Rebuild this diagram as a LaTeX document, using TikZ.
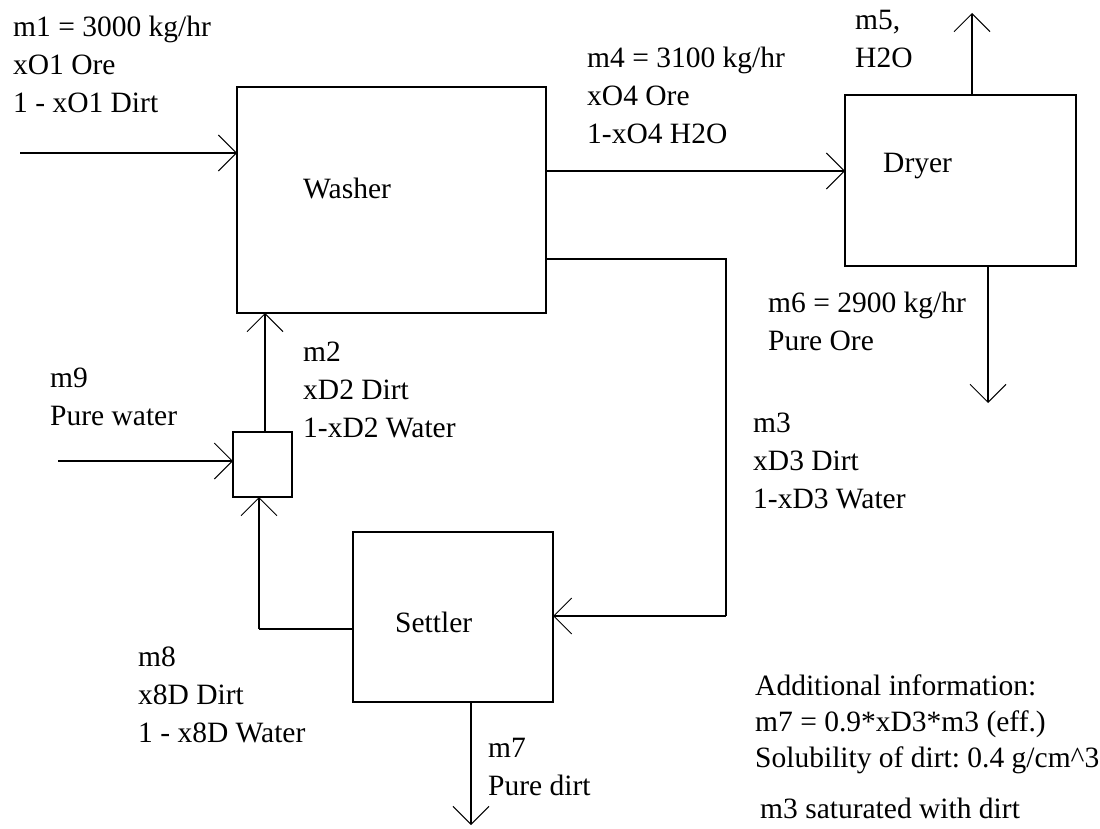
\documentclass[tikz,border=0pt]{standalone}
\usepackage{fontspec}
\setmainfont{Liberation Serif}
\usetikzlibrary{arrows.meta}
\frenchspacing
\begin{document}
\begin{tikzpicture}[x=1pt,y=-1pt,
  unitbox/.style={draw, line width=1.6pt, inner sep=0pt, outer sep=0pt},
  pipe/.style={line width=1.6pt},
  flow/.style={line width=1.6pt, -{Straight Barb[length=18pt,width=36pt,line width=1pt]}},
  lbl/.style={anchor=north west, align=left, inner sep=0pt,
    font=\fontsize{29.5}{38}\selectfont}]
\useasboundingbox[fill=white] (0,0) rectangle (1100,829);

% units
\node[unitbox, minimum width=309pt, minimum height=226pt] (washer) at (391.5,200) {};
\node[unitbox, minimum width=231pt, minimum height=171pt] (dryer) at (960.5,180.5) {};
\node[unitbox, minimum width=200pt, minimum height=170pt] (settler) at (453,617) {};
\node[unitbox, minimum width=59pt, minimum height=65pt] (mixer) at (262.5,464.5) {};

% free ends
\coordinate (m1s) at (20,153);
\coordinate (m5e) at (972,13);
\coordinate (m6e) at (988,403);
\coordinate (m7e) at (471,825);
\coordinate (m9s) at (58,461);
\coordinate (m3a) at (726,259);
\coordinate (m3b) at (726,616);
\coordinate (m8a) at (259,629);

% connectors
\draw[flow] (m1s) -- (washer.west |- m1s);
\draw[flow] (washer.east |- 0,171) -- (dryer.west |- 0,171);
\draw[flow] (dryer.north -| m5e) -- (m5e);
\draw[flow] (dryer.south -| m6e) -- (m6e);
\draw[pipe] (washer.east |- m3a) -- (m3a) -- (m3b);
\draw[flow] (m3b) -- (settler.east |- m3b);
\draw[flow] (settler.south -| m7e) -- (m7e);
\draw[pipe] (settler.west |- m8a) -- (m8a);
\draw[flow] (m8a) -- (mixer.south -| m8a);
\draw[flow] (m9s) -- (mixer.west |- m9s);
\draw[flow] (mixer.north -| 265,0) -- (washer.south -| 265,0);

% labels
\node[lbl] (t1) at (13,16) {m1 = 3000 kg/hr\\xO1 Ore\\1 - xO1 Dirt};
\node[lbl] (t4) at (587,47) {m4 = 3100 kg/hr\\xO4 Ore\\1-xO4 H2O};
\node[lbl] (t5) at (855,10) {m5,\\H2O};
\node[lbl] (tdryer) at (883,153) {Dryer};
\node[lbl] (twasher) at (303,178) {Washer};
\node[lbl] (t6) at (768,292) {m6 = 2900 kg/hr\\Pure Ore};
\node[lbl] (t2) at (303,342) {m2\\xD2 Dirt\\1-xD2 Water};
\node[lbl] (t9) at (50,368) {m9\\Pure water};
\node[lbl] (t3) at (753,413) {m3\\xD3 Dirt\\1-xD3 Water};
\node[lbl] (tsettler) at (395,612) {Settler};
\node[lbl] (t8) at (138,647) {m8\\x8D Dirt\\1 - x8D Water};
\node[lbl] (t7) at (488,738) {m7\\Pure dirt};
\node[lbl, font=\fontsize{29.5}{36}\selectfont] (tinfo) at (755,675) {Additional information:\\m7 = 0.9*xD3*m3 (eff.)\\Solubility of dirt: 0.4 g/cm\textasciicircum 3};
\node[lbl] (tsat) at (760,798) {m3 saturated with dirt};
\end{tikzpicture}
\end{document}
